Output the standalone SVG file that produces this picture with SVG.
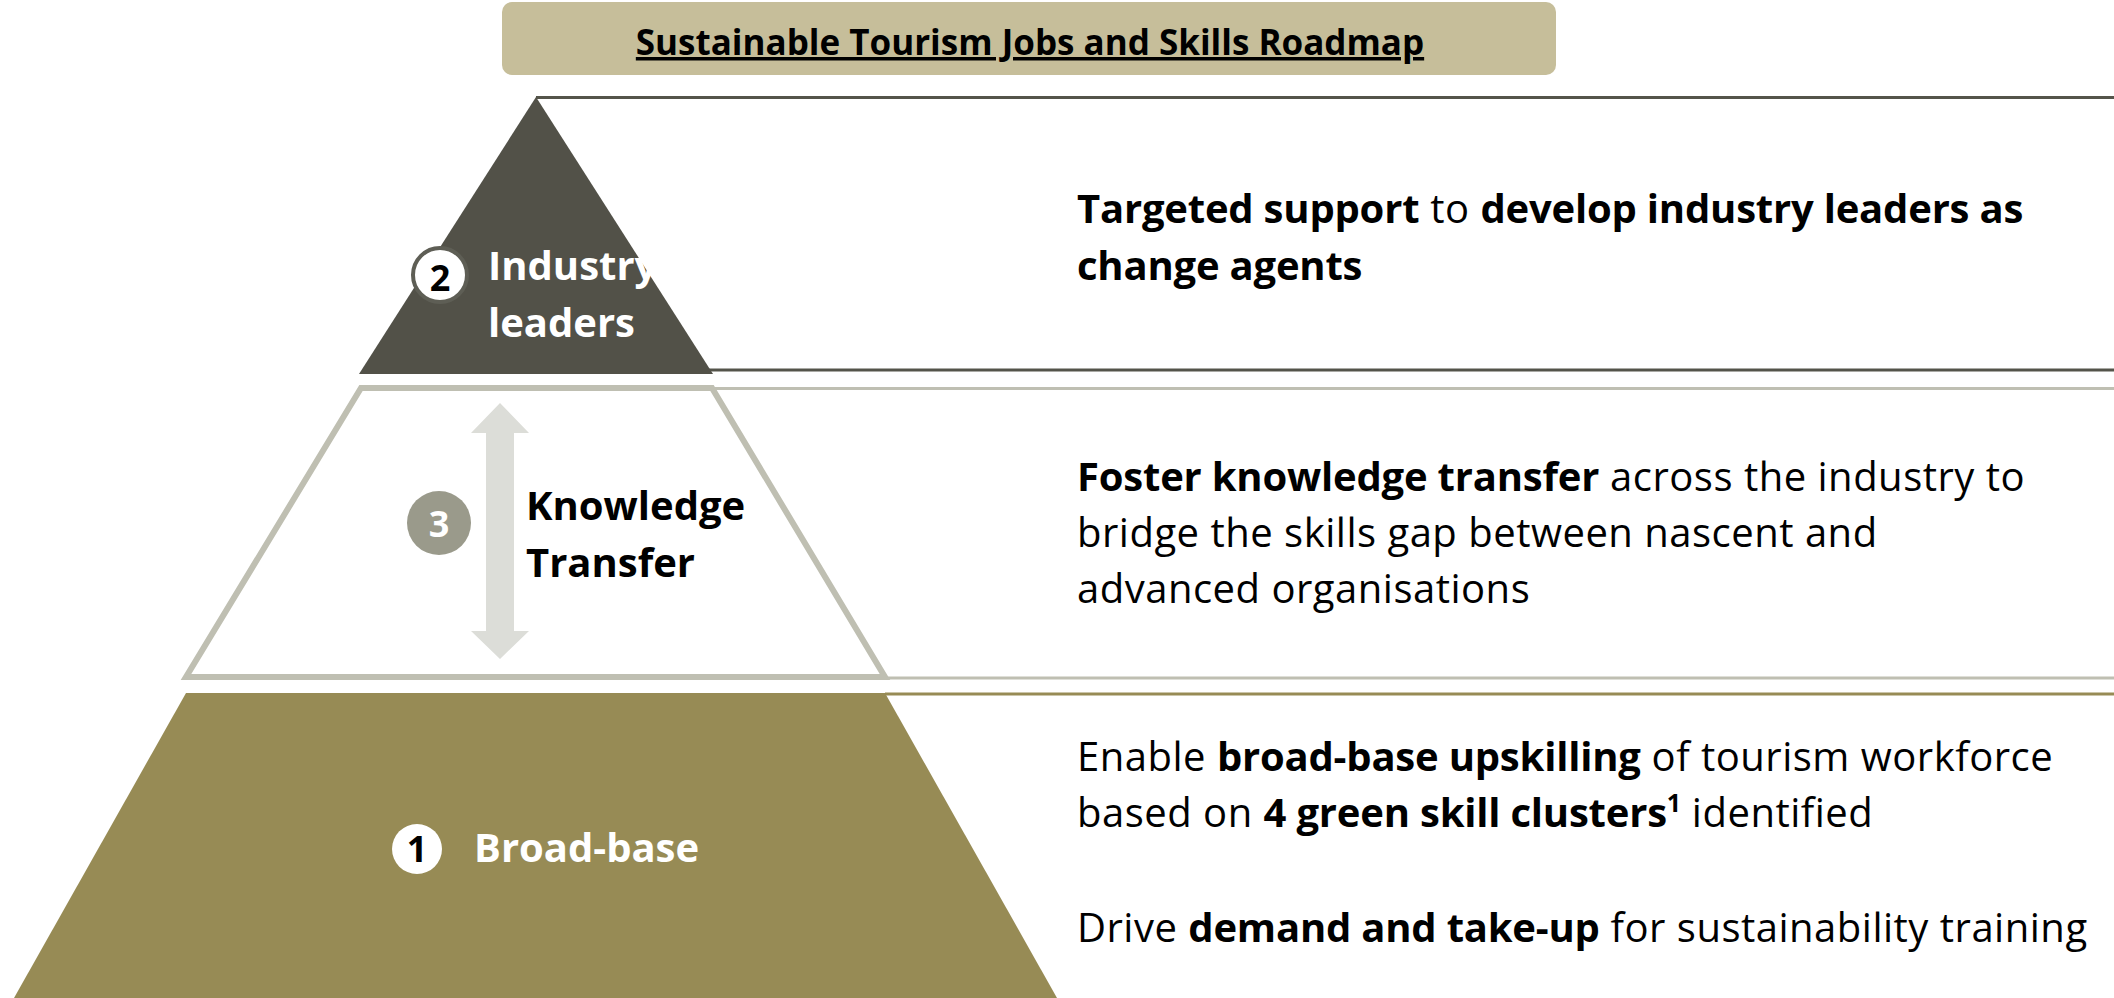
<svg xmlns="http://www.w3.org/2000/svg" width="2114" height="998" viewBox="0 0 2114 998">
<style>
text{font-family:"Open Sans","Noto Sans","Liberation Sans",sans-serif}
.b{font-weight:700;letter-spacing:0}
.desc{font-size:40px;fill:#000;letter-spacing:0.5px}
.desc .b,.desc.b{letter-spacing:-0.2px}
.lbl{font-size:40px;font-weight:700}
.num{font-size:36px;font-weight:700;text-anchor:middle}
</style>
<rect width="2114" height="998" fill="#fff"/>
<g id="title">
<rect x="502" y="2" width="1054" height="73" rx="10" fill="#c6be9a"/>
<text x="1030" y="55" class="b" font-size="35" text-anchor="middle" text-decoration="underline">Sustainable Tourism Jobs and Skills Roadmap</text>
</g>
<g id="band-lines" fill="none">
<line x1="536" y1="97.5" x2="2114" y2="97.5" stroke="#54544a" stroke-width="3"/>
<line x1="700" y1="370" x2="2114" y2="370" stroke="#54544a" stroke-width="3"/>
<line x1="712" y1="388.5" x2="2114" y2="388.5" stroke="#bfbfb2" stroke-width="3"/>
<line x1="885" y1="678" x2="2114" y2="678" stroke="#bfbfb2" stroke-width="3"/>
<line x1="885" y1="694" x2="2114" y2="694" stroke="#978b55" stroke-width="3"/>
</g>
<g id="tier-industry-leaders">
<polygon points="536,97 359,374 713,374" fill="#525148"/>
<circle cx="440" cy="275" r="27" fill="#fff" stroke="#5e5e55" stroke-width="4"/>
<text x="440" y="291" class="num" fill="#000">2</text>
<text x="488" y="280" class="lbl" font-size="42" fill="#fff">Industry</text>
<text x="488" y="337" class="lbl" font-size="42" fill="#fff">leaders</text>
</g>
<g id="tier-knowledge-transfer">
<polygon points="361,388 712,388 885,677 186,677" fill="#fff" stroke="#bfbfb2" stroke-width="6" stroke-linejoin="miter"/>
<circle cx="439" cy="523" r="32" fill="#9a9a8b"/>
<text x="439" y="537" class="num" fill="#fff">3</text>
<text x="526" y="520" class="lbl" font-size="39.5" fill="#000">Knowledge</text>
<text x="526" y="577" class="lbl" font-size="39.5" fill="#000">Transfer</text>
</g>
<g id="connectors">
<polygon points="500,403 529,433 514,433 514,631 529,631 500,659 471,631 486,631 486,433 471,433" fill="#dcddd8"/>
</g>
<g id="tier-broad-base">
<polygon points="186,693 885,693 1057,998 14,998" fill="#978b55"/>
<circle cx="417" cy="849" r="25" fill="#fff"/>
<text x="417" y="862" class="num" font-size="34" fill="#000">1</text>
<text x="474" y="862" class="lbl" fill="#fff">Broad-base</text>
</g>
<g id="desc-industry-leaders">
<text x="1077" y="223" class="desc"><tspan class="b">Targeted support</tspan> to <tspan class="b">develop industry leaders as</tspan></text>
<text x="1077" y="280" class="desc b">change agents</text>
</g>
<g id="desc-knowledge-transfer">
<text x="1077" y="491" class="desc"><tspan class="b">Foster knowledge transfer</tspan> across the industry to</text>
<text x="1077" y="547" class="desc">bridge the skills gap between nascent and</text>
<text x="1077" y="603" class="desc">advanced organisations</text>
</g>
<g id="desc-broad-base">
<text x="1077" y="771" class="desc">Enable <tspan class="b">broad-base upskilling</tspan> of tourism workforce</text>
<text x="1077" y="827" class="desc">based on <tspan class="b">4 green skill clusters</tspan><tspan class="b" font-size="25" dy="-15">1</tspan><tspan dy="15"> identified</tspan></text>
<text x="1077" y="942" class="desc">Drive <tspan class="b">demand and take-up</tspan> for sustainability training</text>
</g>
</svg>
